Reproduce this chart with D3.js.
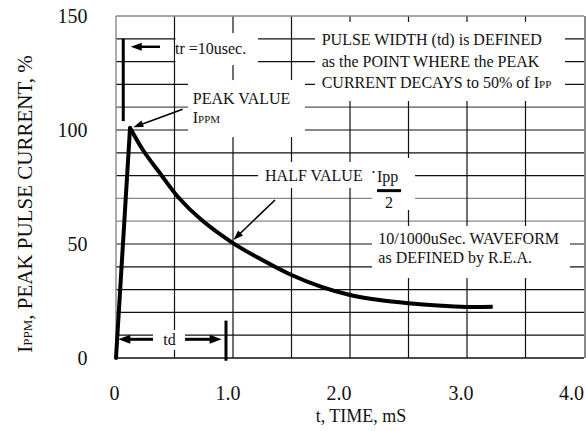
<!DOCTYPE html>
<html><head><meta charset="utf-8">
<script src="https://cdn.jsdelivr.net/npm/d3@7"></script>
<style>
html,body{margin:0;padding:0;background:#fff;}
svg{display:block;font-family:"Liberation Serif","Times New Roman",serif;}
</style></head>
<body><svg id="c" width="586" height="431"></svg>
<script>
// ---- data ----
const xTicks = [0, 1, 2, 3, 4];
const xTickLabels = ["0", "1.0", "2.0", "3.0", "4.0"];
const yTicks = [0, 50, 100, 150];
const yTickLabels = ["0", "50", "100", "150"];
const xGrid = [0.5, 1, 1.5, 2, 2.5, 3, 3.5];
const yGrid = [10, 20, 30, 40, 50, 60, 70, 80, 90, 100, 110, 120, 130, 140];
// rise (0 -> peak) and decay of the 10/1000us waveform, time in ms, current in %
const riseT = [0, 0.12];
const riseV = [0, 101];
const decayT = [0.12, 0.233, 0.376, 0.532, 0.732, 1.003, 1.25, 1.5, 1.75, 2.0, 2.25, 2.5, 2.75, 3.0, 3.22];
const decayV = [101, 91, 81, 70.5, 60.5, 50.3, 43, 36.4, 31.3, 27.6, 25.4, 24, 23, 22.4, 22.5];

const xTitle = "t, TIME, mS";
const yTitleMain = ", PEAK PULSE CURRENT, %";

// ---- scales ----
const svg = d3.select("#c");
const x = d3.scaleLinear().domain([0, 4]).range([116, 584]);
const y = d3.scaleLinear().domain([0, 150]).range([358, 16]);

// ---- grid ----
const grayY = new Set([60, 70]);
const g = svg.append("g");
g.selectAll("line.h").data(yGrid).join("line")
  .attr("x1", x(0)).attr("x2", x(4))
  .attr("y1", d => y(d)).attr("y2", d => y(d))
  .attr("stroke", d => grayY.has(d) ? "#888" : (d === 110 ? "#555" : "#111"))
  .attr("stroke-width", 1.2);
g.selectAll("line.v").data(xGrid).join("line")
  .attr("x1", d => x(d)).attr("x2", d => x(d))
  .attr("y1", y(150)).attr("y2", y(0))
  .attr("stroke", "#111").attr("stroke-width", 1.2);
// frame
g.append("line").attr("x1", x(0)).attr("x2", x(4)).attr("y1", y(150)).attr("y2", y(150)).attr("stroke", "#888").attr("stroke-width", 1.4);
g.append("line").attr("x1", x(0)).attr("x2", x(0)).attr("y1", y(150)).attr("y2", y(0)).attr("stroke", "#888").attr("stroke-width", 1.4);
g.append("line").attr("x1", x(4) + 1).attr("x2", x(4) + 1).attr("y1", y(150)).attr("y2", y(0)).attr("stroke", "#555").attr("stroke-width", 1.4);
g.append("line").attr("x1", x(0)).attr("x2", x(4)).attr("y1", y(0)).attr("y2", y(0)).attr("stroke", "#111").attr("stroke-width", 1.4);

// ---- white label boxes (t0,t1,v0,v1) ----
const boxes = [
  [0.508, 1.214, 128.5, 142.5],
  [0.615, 1.615, 96.9, 121.9],
  [1.701, 3.838, 112.7, 147.4],
  [1.214, 2.188, 74.6, 86],
  [2.188, 2.556, 64.9, 87.7],
  [2.188, 3.88, 35.1, 57.9],
  [0.316, 0.59, 3.5, 12.3]
];
svg.append("g").selectAll("rect").data(boxes).join("rect")
  .attr("x", d => x(d[0])).attr("width", d => x(d[1]) - x(d[0]))
  .attr("y", d => y(d[3])).attr("height", d => y(d[2]) - y(d[3]))
  .attr("fill", "#fff");

// ---- curve ----
const rise = riseT.map((t, i) => [t, riseV[i]]);
const decay = decayT.map((t, i) => [t, decayV[i]]);
svg.append("path").attr("d", d3.line().x(d => x(d[0])).y(d => y(d[1]))(rise))
  .attr("fill", "none").attr("stroke", "#000").attr("stroke-width", 4).attr("stroke-linecap", "round");
svg.append("path").attr("d", d3.line().curve(d3.curveCatmullRom.alpha(0.5)).x(d => x(d[0])).y(d => y(d[1]))(decay))
  .attr("fill", "none").attr("stroke", "#000").attr("stroke-width", 4).attr("stroke-linecap", "butt");

// ---- arrows ----
function arrow(t1, v1, t2, v2, sw, hl, hw) {
  const x1 = x(t1), y1 = y(v1), x2 = x(t2), y2 = y(v2);
  const dx = x2 - x1, dy = y2 - y1, L = Math.hypot(dx, dy);
  const ux = dx / L, uy = dy / L, nx = -uy, ny = ux;
  const bx = x2 - ux * hl, by = y2 - uy * hl;
  svg.append("line").attr("x1", x1).attr("y1", y1).attr("x2", bx + ux).attr("y2", by + uy)
    .attr("stroke", "#000").attr("stroke-width", sw);
  svg.append("path").attr("d", `M${x2},${y2}L${bx + nx * hw / 2},${by + ny * hw / 2}L${bx - nx * hw / 2},${by - ny * hw / 2}Z`)
    .attr("fill", "#000");
}
function bar(t, v1, v2, w) {
  svg.append("line").attr("x1", x(t)).attr("x2", x(t)).attr("y1", y(v1)).attr("y2", y(v2))
    .attr("stroke", "#000").attr("stroke-width", w);
}
// tr
bar(0.062, 140, 103.9, 3);
arrow(0.376, 136.5, 0.126, 136.5, 2.5, 11, 8);
// peak
arrow(0.57, 109.1, 0.148, 101.2, 1.6, 10, 7);
// half
arrow(1.359, 69.3, 1.003, 51.75, 1.6, 10, 7);
// td
arrow(0.316, 8.2, 0.02, 8.2, 3, 12, 9);
arrow(0.59, 8.2, 0.903, 8.2, 3, 12, 9);
bar(0.94, 16.4, -1.2, 3);

// ---- texts ----
function txt(t, v, s, size, anchor) {
  return svg.append("text").attr("x", x(t)).attr("y", y(v)).attr("font-size", size)
    .attr("text-anchor", anchor || "start").attr("fill", "#111").text(s);
}
txt(0.504, 133.3, "tr =10usec.", 16);
txt(0.656, 111.4, "PEAK VALUE", 16);
const ip = txt(0.656, 103.2, "I", 16);
ip.append("tspan").attr("font-size", 11).text("PPM");
txt(1.274, 77.8, "HALF VALUE", 16);
txt(2.2, 78.8, "·", 16, "middle");
txt(2.231, 77.2, "Ipp", 16);
svg.append("line").attr("x1", x(2.231)).attr("x2", x(2.436)).attr("y1", y(73.4)).attr("y2", y(73.4))
  .attr("stroke", "#000").attr("stroke-width", 3);
txt(2.333, 65.8, "2", 16, "middle");
txt(1.758, 137.3, "PULSE WIDTH (td) is DEFINED", 16);
txt(1.758, 127.8, "as the POINT WHERE the PEAK", 16);
const l3 = txt(1.758, 118.3, "CURRENT DECAYS to 50% of I", 16);
l3.append("tspan").attr("font-size", 11).text("PP");
txt(2.242, 50, "10/1000uSec. WAVEFORM", 16);
txt(2.242, 41.8, "as DEFINED by R.E.A.", 16);
txt(0.457, 5.7, "td", 16, "middle");

// ---- axes labels ----
const xLabelShift = [-1.5, -5, -11, -6, -12.5];
svg.append("g").selectAll("text").data(yTicks).join("text")
  .attr("x", 87.5).attr("y", d => y(d)).attr("dy", "0.35em")
  .attr("text-anchor", "end").attr("font-size", 20).attr("fill", "#111")
  .text((d, i) => yTickLabels[i]);
svg.append("g").selectAll("text").data(xTicks).join("text")
  .attr("x", d => x(d)).attr("dx", (d, i) => xLabelShift[i]).attr("y", 400)
  .attr("text-anchor", "middle").attr("font-size", 20).attr("fill", "#111")
  .text((d, i) => xTickLabels[i]);
svg.append("text").attr("x", 361).attr("y", 421.5).attr("text-anchor", "middle")
  .attr("font-size", 18).attr("fill", "#111").text(xTitle);
const yt = svg.append("text").attr("transform", "translate(32,204) rotate(-90)")
  .attr("text-anchor", "middle").attr("font-size", 21).attr("fill", "#111");
yt.append("tspan").text("I");
yt.append("tspan").attr("font-size", 13).text("PPM");
yt.append("tspan").text(yTitleMain);
</script></body></html>
